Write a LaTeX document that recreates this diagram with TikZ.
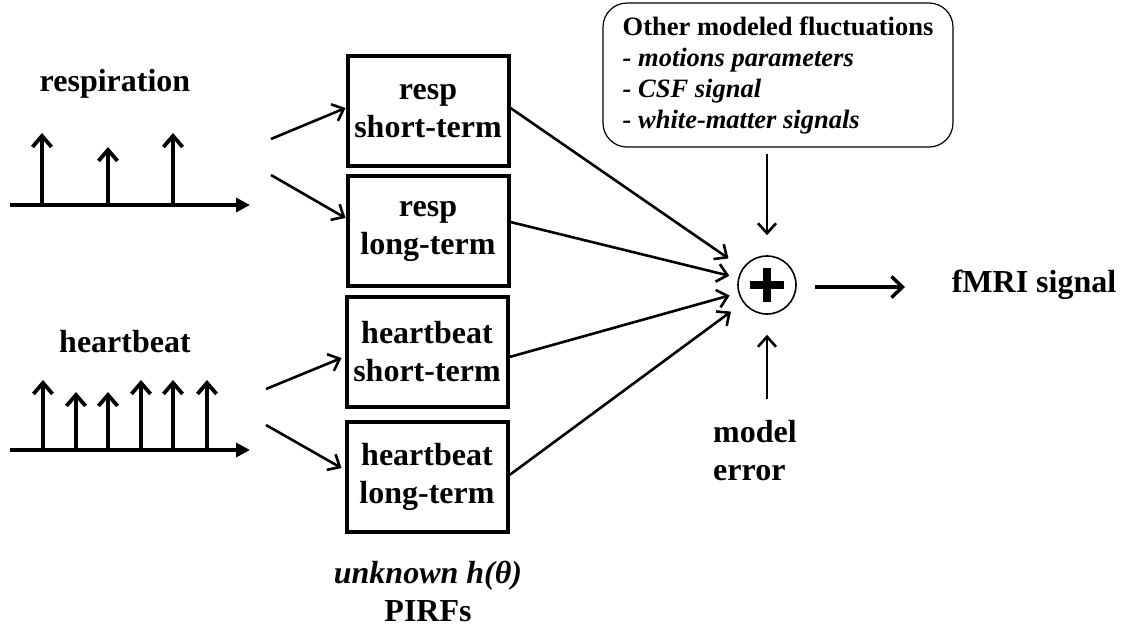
\documentclass[tikz,border=0pt]{standalone}
\usepackage{fontspec}
\setmainfont{Liberation Serif}
\usetikzlibrary{positioning,arrows.meta}

\begin{document}
\begin{tikzpicture}[x=1pt,y=-1pt,
    font=\fontsize{32}{38}\selectfont\bfseries,
    pirf/.style={draw,line width=4pt,minimum width=161pt,minimum height=110pt,align=center,inner sep=2pt},
    link/.style={line width=2.6pt,-{Straight Barb[length=10pt,width=18pt]}},
    spike/.style={line width=3.8pt,-{Straight Barb[length=11pt,width=19pt]}},
    axis/.style={line width=3.8pt,-{Triangle[length=14pt,width=14pt]}}]
  \useasboundingbox (0,0) rectangle (1131,630);

  % input signals
  \node (resp) at (115,84) {respiration};
  \node (heart) at (125,342) {heartbeat};
  \coordinate (ra0) at (10,205);
  \coordinate (ra1) at (250,205);
  \coordinate (ha0) at (10,450);
  \coordinate (ha1) at (250,450);
  \draw[axis] (ra0) -- (ra1);
  \draw[axis] (ha0) -- (ha1);
  \foreach \x/\h in {42/133,108/147,173/133}
    \draw[spike] (\x,205) -- (\x,\h);
  \foreach \x/\h in {43/380,76/392,108/392,141/380,173/380,207/380}
    \draw[spike] (\x,450) -- (\x,\h);

  % PIRF boxes
  \node[pirf] (rs) at (428,111) {resp\\short-term};
  \node[pirf] (rl) at (428,231) {resp\\long-term};
  \node[pirf] (hs) at (427,352) {heartbeat\\short-term};
  \node[pirf] (hl) at (427,477) {heartbeat\\long-term};
  \node[align=center,inner sep=1pt] (pirfs) at (428,591) {\textit{unknown h(θ)}\\PIRFs};

  \coordinate (rf1) at (271,139);
  \coordinate (rf2) at (271,175);
  \coordinate (hf1) at (266,389);
  \coordinate (hf2) at (266,425);
  \draw[link] (rf1) -- ([yshift=3pt]rs.west);
  \draw[link] (rf2) -- ([yshift=13pt]rl.west);
  \draw[link] (hf1) -- ([xshift=-3pt,yshift=-6pt]hs.west);
  \draw[link] (hf2) -- ([xshift=-3pt,yshift=9pt]hl.west);

  % summation
  \node[circle,draw,line width=1.6pt,minimum size=58pt,inner sep=0pt,
        path picture={\draw[line width=8pt]
          ([xshift=-17pt]path picture bounding box.center) -- ([xshift=17pt]path picture bounding box.center)
          ([yshift=-17pt]path picture bounding box.center) -- ([yshift=17pt]path picture bounding box.center);}]
        (sum) at (767,285) {};
  \draw[link,shorten >=17pt] ([yshift=3pt]rs.east) -- (sum);
  \draw[link,shorten >=9pt] ([yshift=9pt]rl.east) -- (sum);
  \draw[link,shorten >=9pt] ([yshift=-5pt]hs.east) -- (sum);
  \draw[link,shorten >=15pt] ([yshift=2pt]hl.east) -- (sum);

  \node[draw,rounded corners=24pt,line width=1.2pt,minimum width=350pt,minimum height=144pt,
        align=left,inner xsep=16pt,font=\fontsize{26.5}{31}\selectfont\bfseries] (other) at (778,75)
    {Other modeled fluctuations\\\textit{- motions parameters}\\\textit{- CSF signal}\\\textit{- white-matter signals}};
  \draw[link,shorten <=6pt,shorten >=20pt] (sum |- other.south) -- (sum);

  \node[align=left] (err) at (755,451) {model\\error};
  \draw[link,shorten >=20pt] ([yshift=18pt]sum |- err.north) -- (sum);

  \node (fmri) at (1034,285) {fMRI signal};
  \coordinate (out0) at (815,287);
  \draw[line width=3.5pt,-{Straight Barb[length=11pt,width=21pt]}] (out0) -- (905,287);
\end{tikzpicture}
\end{document}
